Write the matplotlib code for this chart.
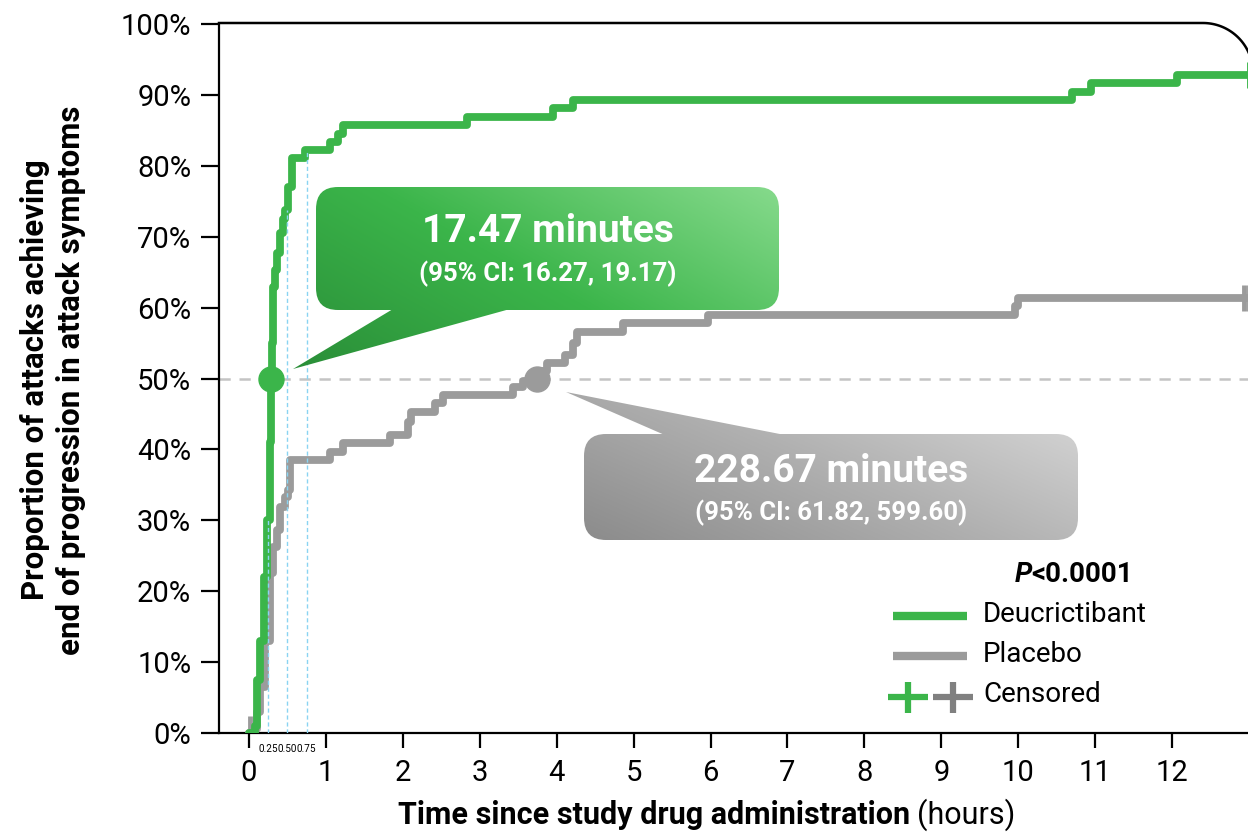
import numpy as np
import matplotlib
matplotlib.use('Agg')
import matplotlib.pyplot as plt
from matplotlib.patches import FancyBboxPatch, Polygon
from matplotlib.transforms import Affine2D
from matplotlib.colors import LinearSegmentedColormap

plt.rcParams['font.family'] = ['Roboto', 'DejaVu Sans']

# Kaplan-Meier steps (hours, % of attacks)
green_t = [0, 0.07, 0.08, 0.10, 0.14, 0.20, 0.24, 0.27, 0.29, 0.30, 0.31, 0.34, 0.37,
           0.40, 0.44, 0.47, 0.51, 0.555, 0.73, 1.05, 1.16, 1.22, 2.83, 3.95, 4.21,
           10.70, 10.94, 12.07, 13.0]
green_v = [0, 0, 1, 7.5, 13, 22, 30, 41, 50, 55, 62.9, 65.3, 67.7,
           70.5, 72.5, 73.8, 77, 81.1, 82.2, 83.4, 84.5, 85.7, 86.9, 88.1, 89.3,
           90.4, 91.7, 92.8, 92.8]

gray_t = [0, 0.05, 0.10, 0.14, 0.21, 0.27, 0.31, 0.36, 0.40, 0.47, 0.51, 0.53, 1.05,
          1.22, 1.83, 2.07, 2.10, 2.42, 2.52, 3.43, 3.56, 3.65, 3.78, 3.88, 4.11,
          4.21, 4.27, 4.86, 5.97, 9.96, 10.0, 13.0]
gray_v = [0, 0.5, 3, 6.5, 13, 22.5, 26.2, 28.6, 31.9, 33.3, 34.3, 38.5, 39.6,
          40.9, 42.0, 43.8, 45.3, 46.5, 47.7, 48.8, 49.6, 50.4, 51.0, 52.2, 53.3,
          55.0, 56.6, 57.8, 59.0, 60.2, 61.4, 61.4]

green_cens_t = [13.0]
green_cens_v = [92.8]
gray_cens_t = [12.93, 13.0]
gray_cens_v = [61.4, 61.4]
gray_early_cens_t = [0.01]

green_median = 0.29   # 17.47 min
gray_median = 3.75    # 228.67 min
quarter_marks = [0.25, 0.5, 0.75]

GREEN = '#3BB54A'
GRAY = '#9B9B9B'
DGRAY = '#808080'
BLUE = '#8AD4F2'

W, H = 1248, 839
fig = plt.figure(figsize=(W / 100, H / 100), dpi=100)
ax = fig.add_axes([219 / W, 106 / H, 1030 / W, 709 / H])
# pixel coords (origin top-left) for annotations
px = Affine2D().scale(1 / W, -1 / H).translate(0, 1) + fig.transFigure

ax.axhline(50, color='#C4C4C4', lw=1.8, dashes=(4.5, 3.5), zorder=1)

ax.plot(gray_t, gray_v, drawstyle='steps-post', color=GRAY, lw=5.6,
        solid_joinstyle='round', solid_capstyle='round', zorder=3)
ax.plot(green_t, green_v, drawstyle='steps-post', color=GREEN, lw=5.6,
        solid_joinstyle='round', solid_capstyle='round', zorder=4)

# dashed guides at 15/30/45 minutes up to the green curve
for q in quarter_marks:
    i = np.searchsorted(green_t, q, side='right') - 1
    ax.plot([q, q], [0, green_v[i]], color=BLUE, lw=1, dashes=(3, 2), zorder=5)

ax.plot(gray_early_cens_t, [0], '|', ms=24, mew=3.5, color=GRAY, zorder=2)
ax.plot(gray_cens_t, gray_cens_v, '+', ms=19, mew=3.5, color=GRAY, clip_on=False, zorder=6)
ax.plot(green_cens_t, green_cens_v, '+', ms=19, mew=3.5, color=GREEN, clip_on=False, zorder=6)

ax.plot([green_median], [50], 'o', ms=18, color=GREEN, zorder=7)
ax.plot([gray_median], [50], 'o', ms=18, color=GRAY, zorder=7)


def callout(box, tail, colors, big, small, yb, ys):
    x0, y0, x1, y1 = box
    xs = [p[0] for p in tail] + [x0, x1]
    ys_ = [p[1] for p in tail] + [y0, y1]
    ex0, ex1, ey0, ey1 = min(xs), max(xs), min(ys_), max(ys_)
    cmap = LinearSegmentedColormap.from_list('c', colors)
    u = np.linspace(0, 1, 300)[None, :]
    v = np.linspace(0, 1, 300)[:, None]
    g = 0.6 * u + 0.4 * (1 - v)
    clips = [FancyBboxPatch((x0, y0), x1 - x0, y1 - y0,
                            boxstyle='round,pad=0,rounding_size=22', transform=px),
             Polygon(tail, closed=True, transform=px)]
    for c in clips:
        im = ax.imshow(g, cmap=cmap, vmin=0, vmax=1, extent=(ex0, ex1, ey1, ey0),
                       origin='upper', transform=px, aspect='auto',
                       interpolation='bilinear', zorder=8)
        im.set_clip_path(c)
    cx = (x0 + x1) / 2
    fig.text(cx, yb, big, transform=px, ha='center', va='center', color='white',
             fontsize=28, weight='bold')
    fig.text(cx, ys, small, transform=px, ha='center', va='center', color='white',
             fontsize=18.5, weight='bold')


callout((316, 187, 779, 310), [(393, 309), (510, 309), (293, 369)],
        ['#2A8E38', '#3BB54A', '#86DA8C'], '17.47 minutes', '(95% CI: 16.27, 19.17)', 231, 274)
callout((584, 434, 1078, 540), [(667, 436), (790, 436), (566, 392)],
        ['#8A8A8A', '#B0B0B0', '#DADADA'], '228.67 minutes', '(95% CI: 61.82, 599.60)', 471, 513)

ax.set_xlim(-0.39, 13.0)
ax.set_ylim(0, 100)
ax.set_xticks(range(13))
ax.set_xticklabels([str(i) for i in range(13)])
ax.set_yticks(range(0, 101, 10))
ax.set_yticklabels([f'{v}%' for v in range(0, 101, 10)])
ax.tick_params(axis='x', length=11, width=1.6, pad=8, labelsize=21)
ax.tick_params(axis='y', length=13, width=1.6, pad=7, labelsize=21)
for s in ['top', 'right']:
    ax.spines[s].set_visible(False)
for s in ['left', 'bottom']:
    ax.spines[s].set_linewidth(1.6)

for q in quarter_marks:
    ax.text(q, -0.016, f'{q:.2f}', transform=ax.get_xaxis_transform(), ha='center',
            va='top', fontsize=7.2, family=['Roboto'], stretch='condensed')

# top frame with rounded corner
th = np.linspace(0, np.pi / 2, 40)
fx = np.concatenate([[219], 1203 + 50 * np.sin(th), [1253]])
fy = np.concatenate([[23], 73 - 50 * np.cos(th), [733]])
ax.plot(fx, fy, color='black', lw=1.8, transform=px, clip_on=False, zorder=2)

# legend
fig.text(1015, 575, 'P', transform=px, ha='left', va='center', fontsize=20,
         weight='bold', style='italic')
fig.text(1031, 575, '<0.0001', transform=px, ha='left', va='center', fontsize=20,
         weight='bold')
ax.plot([893, 967], [616, 616], color=GREEN, lw=6, solid_capstyle='butt',
        transform=px, clip_on=False)
ax.plot([893, 967], [656, 656], color=GRAY, lw=6, solid_capstyle='butt',
        transform=px, clip_on=False)
for cx, col in [(908, GREEN), (953, DGRAY)]:
    ax.plot([cx - 20, cx + 20], [697, 697], color=col, lw=4.5, solid_capstyle='butt',
            transform=px, clip_on=False)
    ax.plot([cx, cx], [682, 713], color=col, lw=4.5, solid_capstyle='butt',
            transform=px, clip_on=False)
for yy, lab in [(614, 'Deucrictibant'), (655, 'Placebo'), (695, 'Censored')]:
    fig.text(983, yy, lab, transform=px, ha='left', va='center', fontsize=20)

# axis titles
fig.text(53, 380, 'Proportion of attacks achieving\nend of progression in attack symptoms',
         transform=px, rotation=90, ha='center', va='center', fontsize=22.5,
         weight='bold', linespacing=1.25, multialignment='center')
t1 = fig.text(0, 815, 'Time since study drug administration', transform=px,
              ha='left', va='center', fontsize=22, weight='bold')
t2 = fig.text(0, 815, '(hours)', transform=px, ha='left', va='center', fontsize=22)
fig.canvas.draw()
r = fig.canvas.get_renderer()
w1 = t1.get_window_extent(r).width
w2 = t2.get_window_extent(r).width
start = 707 - (w1 + 7 + w2) / 2
t1.set_x(start)
t2.set_x(start + w1 + 7)

fig.savefig('out.png', dpi=100)
